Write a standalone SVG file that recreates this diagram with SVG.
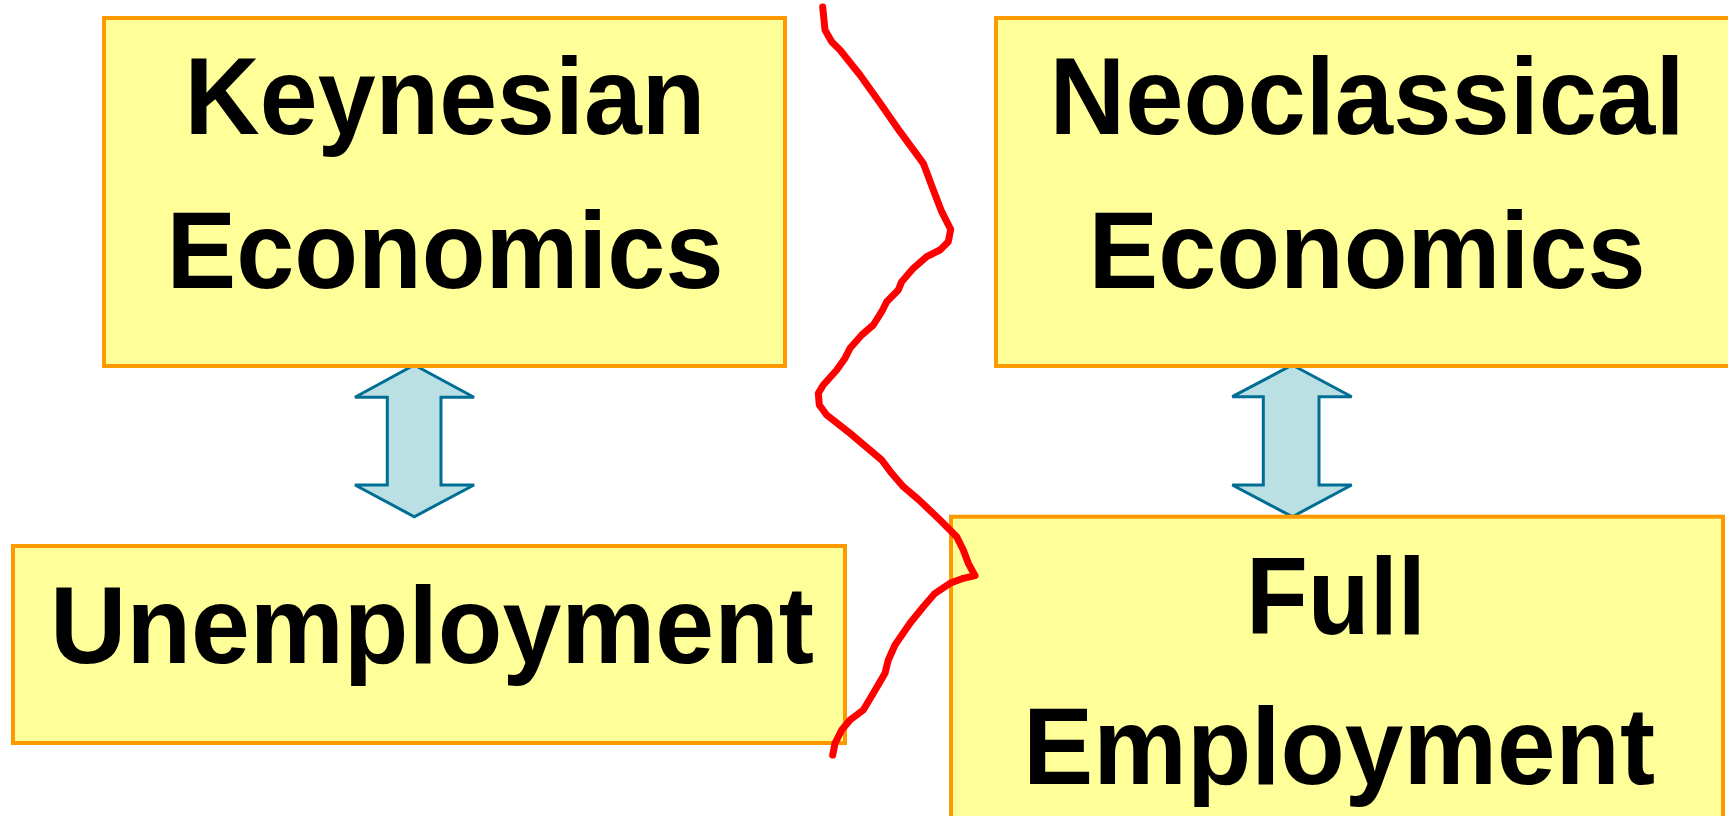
<svg xmlns="http://www.w3.org/2000/svg" width="1728" height="816" viewBox="0 0 1728 816">
<style>
.box{fill:#FFFF99;stroke:#FF9900;stroke-width:4}
.lbl{font-family:"Liberation Sans",Arial,sans-serif;font-weight:bold;font-size:109px;fill:#000;text-anchor:middle}
.arr{fill:#BAE0E4;stroke:#006E94;stroke-width:3;stroke-linejoin:miter}
.scribble{fill:none;stroke:#FF0000;stroke-width:7;stroke-linejoin:round;stroke-linecap:round}
</style>
<rect width="1728" height="816" fill="#FFFFFF"/>
<g id="connectors">
<path class="arr" d="M414.3,365 L474,397.3 L441,397.3 L441,485 L474,485 L414.3,516.7 L355,485 L387.3,485 L387.3,397.3 L355,397.3 Z"/>
<path class="arr" d="M1292.3,365 L1351.7,396.7 L1319,396.7 L1319,485 L1351.7,485 L1292.3,516.7 L1232.3,485 L1263.3,485 L1263.3,396.7 L1232.3,396.7 Z"/>
</g>
<g id="keynesian">
<rect class="box" x="104" y="18" width="681" height="348"/>
<text class="lbl" x="445" y="134" textLength="521" lengthAdjust="spacingAndGlyphs">Keynesian</text>
<text class="lbl" x="445" y="288" textLength="557" lengthAdjust="spacingAndGlyphs">Economics</text>
</g>
<g id="neoclassical">
<rect class="box" x="996" y="18" width="760" height="348"/>
<text class="lbl" x="1367" y="134" textLength="635" lengthAdjust="spacingAndGlyphs">Neoclassical</text>
<text class="lbl" x="1367" y="288" textLength="557" lengthAdjust="spacingAndGlyphs">Economics</text>
</g>
<g id="unemployment">
<rect class="box" x="13" y="546" width="832" height="197"/>
<text class="lbl" x="432" y="663" textLength="764" lengthAdjust="spacingAndGlyphs">Unemployment</text>
</g>
<g id="full-employment">
<rect class="box" x="951" y="516.7" width="772" height="320"/>
<text class="lbl" x="1336" y="634" textLength="180" lengthAdjust="spacingAndGlyphs">Full</text>
<text class="lbl" x="1339" y="784" textLength="632" lengthAdjust="spacingAndGlyphs">Employment</text>
</g>
<g id="scribble">
<polyline class="scribble" points="822.7,7 825,30 831.7,41.7 840,50 860,75 880,103 900,131.7 923.3,163.3 933.3,190 941.7,211.7 950.7,229.3 948.3,241.7 940,250 926.7,256.7 913.3,268.3 901.7,281.7 898.3,290 886.7,301.7 881.7,311.7 873.3,325 861.7,335 850,348.3 845,358.3 836.7,370 823.3,385 818.3,393.3 819.3,405 826.7,415 850,433.3 881.7,460 891.7,473.3 903.3,486.7 919,500 940,520 956.7,536.7 963.3,550 968.3,563.3 975,575.7 963.3,578.3 950,583.3 935,593.3 923.3,606.7 910,623.3 895,645 888.3,660 885,673.3 873.3,693.3 863.3,710 850,720 841.7,730 835,743.3 832.7,755"/>
</g>
</svg>
